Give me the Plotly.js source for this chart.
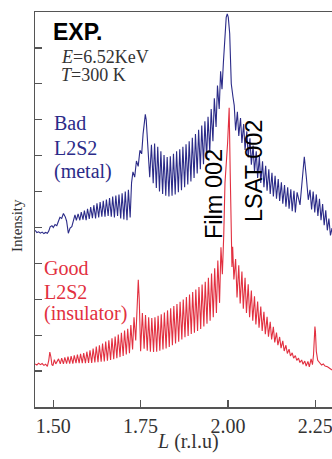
<!DOCTYPE html>
<html><head><meta charset="utf-8">
<script src="https://cdn.plot.ly/plotly-3.0.1.min.js"></script>
<style>html,body{margin:0;padding:0;background:#fff;overflow:hidden}#chart{width:332px;height:459px}</style>
</head><body><div id="chart"></div>
<script>
// ---------- Good L2S2 (insulator), red ----------
const goodL_base = [1.448,1.453,1.458,1.463,1.468,1.473,1.478,1.483,1.487,1.490,1.493,1.496,1.499,1.503,1.507,1.511];
const goodI_base = [1.20,1.17,1.22,1.18,1.21,1.16,1.19,1.13,1.30,1.53,1.40,1.18,1.15,1.32,1.20,1.28];
const goodL_fr1 = [1.515,1.520,1.524,1.529,1.533,1.538,1.542,1.547,1.551,1.556,1.560,1.565,1.569,1.574,1.578,1.583,1.587,1.592,1.596,1.601,1.605,1.610,1.614,1.619,1.623,1.628,1.632,1.637,1.641,1.646,1.650,1.655,1.659,1.664,1.668,1.673,1.677,1.682,1.686,1.691,1.695,1.700,1.704,1.709,1.713,1.718,1.722,1.727,1.731,1.736];
const goodI_fr1 = [1.34,1.20,1.36,1.20,1.38,1.21,1.40,1.21,1.42,1.21,1.44,1.22,1.46,1.22,1.48,1.22,1.50,1.22,1.54,1.23,1.58,1.23,1.63,1.24,1.68,1.25,1.72,1.26,1.77,1.27,1.82,1.29,1.86,1.31,1.91,1.33,1.96,1.36,2.02,1.39,2.07,1.42,2.13,1.46,2.18,1.50,2.28,1.60,2.50,1.85];
const goodL_pk1 = [1.740,1.7433,1.746,1.750];
const goodI_pk1 = [2.90,3.54,3.00,1.55];
const goodL_fr2 = [1.755,1.760,1.764,1.769,1.773,1.778,1.782,1.787,1.791,1.796,1.800,1.805,1.809,1.814,1.818,1.823,1.827,1.832,1.836,1.841,1.845,1.850,1.854,1.859,1.863,1.868,1.872,1.877,1.881,1.886,1.890,1.895,1.899,1.904,1.908,1.913,1.917,1.922,1.926,1.931,1.935,1.940,1.944,1.949,1.953,1.958,1.962,1.967,1.971,1.976,1.980,1.984];
const goodI_fr2 = [2.62,1.62,2.56,1.57,2.50,1.54,2.48,1.53,2.50,1.54,2.54,1.57,2.58,1.60,2.63,1.63,2.69,1.67,2.75,1.72,2.81,1.77,2.87,1.82,2.93,1.88,2.99,1.94,3.06,1.98,3.13,2.03,3.20,2.07,3.27,2.12,3.34,2.17,3.41,2.24,3.49,2.32,3.60,2.40,3.72,2.50,3.86,2.62,4.08,2.90,4.45,3.70];
const goodL_pk2 = [1.988,1.9915,1.999,2.0035,2.0065,2.0095,2.0115,2.0135,2.017];
const goodI_pk2 = [4.80,6.24,7.35,8.33,6.50,5.00,3.90,4.46,3.55];
const goodL_fr3 = [2.022,2.026,2.031,2.035,2.040,2.044,2.049,2.053,2.058,2.062,2.067,2.071,2.076,2.080,2.085,2.089,2.094,2.098,2.103,2.107,2.112,2.116,2.121,2.125,2.130,2.134,2.139,2.143,2.148,2.152,2.157,2.161,2.166,2.170,2.175,2.179,2.184,2.188,2.193,2.197,2.202,2.206,2.211,2.215,2.220,2.224,2.229,2.233,2.238,2.242];
const goodI_fr3 = [4.12,3.05,3.95,2.88,3.77,2.74,3.60,2.62,3.42,2.50,3.24,2.40,3.08,2.30,2.94,2.21,2.80,2.12,2.65,2.03,2.51,1.96,2.37,1.88,2.23,1.80,2.07,1.72,1.95,1.64,1.84,1.56,1.72,1.49,1.61,1.42,1.51,1.36,1.43,1.30,1.36,1.24,1.31,1.19,1.28,1.14,1.27,1.12,1.34,1.18];
const goodL_pk3 = [2.245,2.2475,2.249,2.2505,2.253,2.257,2.263,2.268,2.273,2.278,2.285,2.292,2.298];
const goodI_pk3 = [1.45,2.05,2.24,2.10,1.55,1.30,1.22,1.17,1.20,1.14,1.12,1.07,1.03];

// ---------- Bad L2S2 (metal), blue ----------
const badL_base = [1.448,1.453,1.458,1.463,1.468,1.473,1.478,1.483,1.487,1.491,1.496,1.500,1.505,1.510,1.515,1.519,1.524,1.529,1.534,1.538,1.543,1.548,1.553,1.557,1.562,1.566];
const badI_base = [4.92,4.86,4.88,4.84,4.87,4.83,4.86,4.84,4.90,5.02,5.05,5.00,5.08,5.05,5.18,5.28,5.25,5.39,5.30,5.18,4.84,4.98,5.02,5.15,5.35,5.20];
const badL_fr1 = [1.571,1.576,1.580,1.585,1.589,1.594,1.598,1.603,1.607,1.612,1.616,1.621,1.625,1.630,1.634,1.639,1.643,1.648,1.652,1.657,1.661,1.666,1.670,1.675,1.679,1.684,1.688,1.693,1.697,1.702,1.706,1.711,1.715,1.720];
const badI_fr1 = [5.38,5.20,5.43,5.22,5.47,5.20,5.52,5.24,5.57,5.26,5.62,5.25,5.67,5.28,5.71,5.30,5.74,5.30,5.78,5.32,5.82,5.30,5.86,5.28,5.89,5.32,5.92,5.25,5.95,5.22,6.00,5.20,6.05,5.28];
const badL_pk1 = [1.724,1.728,1.733,1.738,1.743,1.748,1.753,1.757,1.7605,1.7634,1.766,1.769,1.772,1.776];
const badI_pk1 = [6.24,6.55,6.40,6.85,6.70,7.15,7.05,7.60,8.00,8.15,8.00,7.60,7.20,6.40];
const badL_fr2 = [1.781,1.786,1.790,1.795,1.799,1.804,1.808,1.813,1.817,1.822,1.826,1.831,1.835,1.840,1.844,1.849,1.853,1.858,1.862,1.867,1.871,1.876,1.880,1.885,1.889,1.894,1.898,1.903,1.907,1.912,1.916,1.921,1.925,1.930,1.934,1.939,1.943,1.948,1.952,1.957,1.961,1.966,1.970,1.975,1.979,1.983];
const badI_fr2 = [7.30,6.23,7.34,6.10,7.25,6.00,7.12,5.93,7.02,5.88,6.96,5.86,6.98,5.88,7.05,5.92,7.12,5.98,7.18,6.04,7.25,6.12,7.32,6.20,7.40,6.28,7.50,6.38,7.60,6.50,7.72,6.62,7.84,6.76,7.96,6.92,8.08,7.10,8.30,7.40,8.60,7.80,8.95,8.30,9.35,8.85];
const badL_pk2 = [1.987,1.9915,1.995,1.998,2.001,2.005,2.0095,2.0143];
const badI_pk2 = [9.60,10.45,10.85,10.95,10.85,10.40,9.00,8.64];
const badL_fr3 = [2.018,2.022,2.027,2.031,2.036,2.040,2.045,2.049,2.054,2.058,2.063,2.067,2.072,2.076,2.081,2.085,2.090,2.094,2.099,2.103,2.108,2.112,2.117,2.121,2.126,2.130,2.135,2.139,2.144,2.148,2.153,2.157,2.162,2.166,2.171,2.175,2.180,2.184,2.189,2.193,2.198,2.2063];
const badI_fr3 = [8.40,7.70,8.22,7.55,8.05,7.35,7.88,7.16,7.68,6.95,7.48,6.75,7.28,6.55,7.12,6.38,6.98,6.24,6.84,6.12,6.72,6.02,6.62,5.93,6.52,5.86,6.44,5.80,6.35,5.74,6.26,5.66,6.18,5.58,6.12,5.52,6.06,5.45,6.02,5.42,5.98,5.63];
const badL_pk3 = [2.2129,2.2186,2.2243,2.230];
const badI_pk3 = [6.50,6.97,6.41,5.77];
const badL_tail = [2.235,2.2395,2.244,2.2485,2.253,2.2575,2.262,2.2665,2.271,2.2755,2.280,2.2845,2.289,2.2935,2.298,2.302];
const badI_tail = [6.05,5.50,6.00,5.42,5.92,5.32,5.80,5.20,5.65,5.06,5.48,4.92,5.25,4.78,4.98,4.70];

// ---------- axis ticks ----------
const xTickVals = [1.50,1.75,2.00,2.25];
const xTickText = ['1.50','1.75','2.00','2.25'];

const goodL = [].concat(goodL_base,goodL_fr1,goodL_pk1,goodL_fr2,goodL_pk2,goodL_fr3,goodL_pk3);
const goodI = [].concat(goodI_base,goodI_fr1,goodI_pk1,goodI_fr2,goodI_pk2,goodI_fr3,goodI_pk3);
const badL = [].concat(badL_base,badL_fr1,badL_pk1,badL_fr2,badL_pk2,badL_fr3,badL_pk3,badL_tail);
const badI = [].concat(badI_base,badI_fr1,badI_pk1,badI_fr2,badI_pk2,badI_fr3,badI_pk3,badI_tail);

const BLUE = '#2b2b88', RED = '#e23040';
const serif = 'Liberation Serif, Times New Roman, serif';
const sans = 'Liberation Sans, Arial, sans-serif';

// plot area in pixels: x 35..332, y 12..407
const L0 = 35, W = 297, T0 = 12, H = 395;
const px = v => (v - L0) / W;
const py = v => (T0 + H - v) / H;

function ann(text, x, y, font, opts) {
  return Object.assign({text, xref:'paper', yref:'paper', x:px(x), y:py(y),
    showarrow:false, xanchor:'left', yanchor:'middle', font}, opts||{});
}

const annotations = [
  ann('<b>EXP.</b>', 51, 32, {family:sans, size:23, color:'#000'}),
  ann('<i>E</i>=6.52KeV', 59, 57, {family:serif, size:18, color:'#333'}),
  ann('<i>T</i>=300 K', 59, 75, {family:serif, size:18, color:'#333'}),
  ann('Bad', 51.5, 123.5, {family:serif, size:20, color:BLUE}),
  ann('L2S2', 51.5, 148.5, {family:serif, size:20, color:BLUE}),
  ann('(metal)', 51.5, 171, {family:serif, size:20, color:BLUE}),
  ann('Good', 42, 268, {family:serif, size:20, color:RED}),
  ann('L2S2', 42, 291.5, {family:serif, size:20, color:RED}),
  ann('(insulator)', 42, 313, {family:serif, size:20, color:RED}),
  ann('Film 002', 214, 194, {family:sans, size:23.5, color:'#000'}, {xanchor:'center', textangle:-90}),
  ann('LSAT 002', 254, 171, {family:sans, size:23.5, color:'#000'}, {xanchor:'center', textangle:-90}),
  ann('Intensity', 17, 226, {family:serif, size:15, color:'#333'}, {xanchor:'center', textangle:-90}),
  ann('<i>L</i> (r.l.u)', 188, 441, {family:serif, size:20, color:'#333'}, {xanchor:'center'})
];

const data = [
  {x: badL, y: badI, type:'scatter', mode:'lines', line:{color:BLUE, width:1.1}, hoverinfo:'skip'},
  {x: goodL, y: goodI, type:'scatter', mode:'lines', line:{color:RED, width:1.1}, hoverinfo:'skip'}
];

const layout = {
  width:332, height:459,
  margin:{l:35, r:0, t:12, b:52},
  paper_bgcolor:'#fff', plot_bgcolor:'#fff',
  showlegend:false,
  xaxis:{range:[1.4476,2.2979], tickvals:xTickVals, ticktext:xTickText,
    ticks:'inside', ticklen:7, tickwidth:1.2, tickcolor:'#555',
    showline:true, linecolor:'#555', linewidth:1.5, mirror:true,
    showgrid:false, zeroline:false, automargin:false, ticklabeloverflow:'allow',
    tickfont:{family:serif, size:20, color:'#333'}},
  yaxis:{range:[0,11], tick0:0, dtick:1, ticks:'inside', ticklen:7, tickwidth:1.2, tickcolor:'#555',
    showticklabels:false, showline:true, linecolor:'#555', linewidth:1.5, mirror:false,
    showgrid:false, zeroline:false, automargin:false},
  annotations
};

Plotly.newPlot('chart', data, layout, {staticPlot:true, displayModeBar:false});
</script></body></html>
